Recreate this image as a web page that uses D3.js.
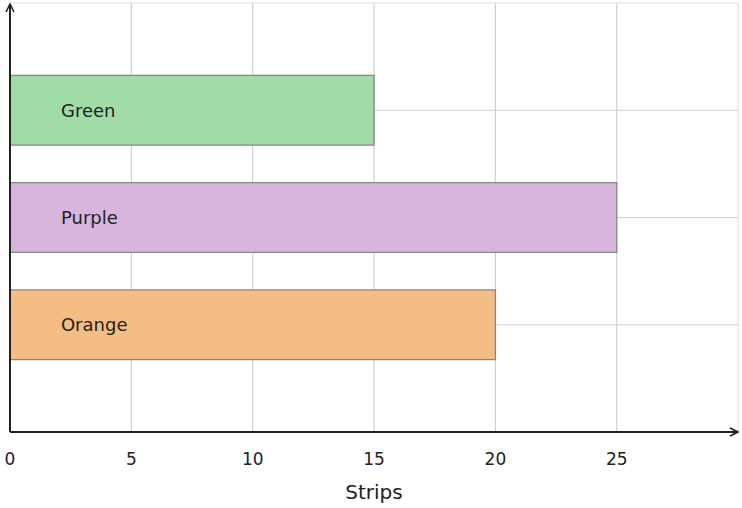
<!DOCTYPE html>
<html><head><meta charset="utf-8">
<script src="https://cdn.jsdelivr.net/npm/d3@7"></script>
<style>body{margin:0;background:#fff}text{font-family:"DejaVu Sans",sans-serif}</style>
</head><body><div id="chart"></div>
<script>
let categories = ["Green", "Purple", "Orange"]
let values = [15, 25, 20]
let colors = ["#a0dba8", "#d8b5dc", "#f3bd84"]
let xTicks = [0, 5, 10, 15, 20, 25]

let width = 742, height = 508
let padLeft = 10, padBottom = 432, padTop = 3

let x = d3.scaleLinear().domain([0, 30]).range([padLeft, padLeft + 30 * 24.27])
let y = d3.scaleLinear().domain([0, 4]).range([padBottom, padTop]) // category i at 3-i

let svg = d3.select('#chart').append('svg')
  .attr('width', width).attr('height', height)

// grid
svg.selectAll('.vg').data(xTicks.slice(1)).join('line')
  .attr('x1', d => x(d)).attr('x2', d => x(d))
  .attr('y1', padTop).attr('y2', padBottom)
  .attr('stroke', '#d0d0d0').attr('stroke-width', 1.2)
svg.selectAll('.hg').data(categories).join('line')
  .attr('x1', padLeft).attr('x2', 738)
  .attr('y1', (d, i) => y(3 - i)).attr('y2', (d, i) => y(3 - i))
  .attr('stroke', '#d0d0d0').attr('stroke-width', 1.2)
svg.append('line').attr('x1', padLeft).attr('x2', 738).attr('y1', padTop).attr('y2', padTop)
  .attr('stroke', '#e0e0e0')
svg.append('line').attr('x1', 738).attr('x2', 738).attr('y1', padTop).attr('y2', padBottom)
  .attr('stroke', '#e0e0e0')

let bh = y(0) - y(0.65)
svg.selectAll('rect.bar').data(values).join('rect')
  .attr('x', x(0))
  .attr('y', (d, i) => y(3 - i) - bh / 2)
  .attr('width', d => x(d) - x(0))
  .attr('height', bh)
  .attr('fill', (d, i) => colors[i])
  .attr('stroke', '#888').attr('stroke-width', 1.3)

svg.selectAll('text.lab').data(categories).join('text')
  .attr('x', x(2.1)).attr('y', (d, i) => y(3 - i))
  .attr('dy', '0.35em').attr('font-size', 18).attr('fill', '#222')
  .text(d => d)

// axes with arrows
svg.append('defs').append('marker').attr('id', 'arr')
  .attr('viewBox', '0 0 10 10').attr('refX', 9).attr('refY', 5)
  .attr('markerWidth', 5).attr('markerHeight', 5).attr('orient', 'auto')
  .append('path').attr('d', 'M1,1 L9,5 L1,9').attr('fill', 'none')
  .attr('stroke', '#222').attr('stroke-width', 1.6)
svg.append('line').attr('x1', padLeft).attr('x2', 738).attr('y1', padBottom).attr('y2', padBottom)
  .attr('stroke', '#222').attr('stroke-width', 2).attr('marker-end', 'url(#arr)')
svg.append('line').attr('x1', padLeft).attr('x2', padLeft).attr('y1', padBottom).attr('y2', padTop + 1)
  .attr('stroke', '#222').attr('stroke-width', 2).attr('marker-end', 'url(#arr)')

svg.selectAll('text.xt').data(xTicks).join('text')
  .attr('x', d => x(d)).attr('y', 465).attr('text-anchor', 'middle')
  .attr('font-size', 17).attr('fill', '#222').text(d => d)
svg.append('text').attr('x', 374).attr('y', 499).attr('text-anchor', 'middle')
  .attr('font-size', 20).attr('fill', '#222').text('Strips')
</script></body></html>
